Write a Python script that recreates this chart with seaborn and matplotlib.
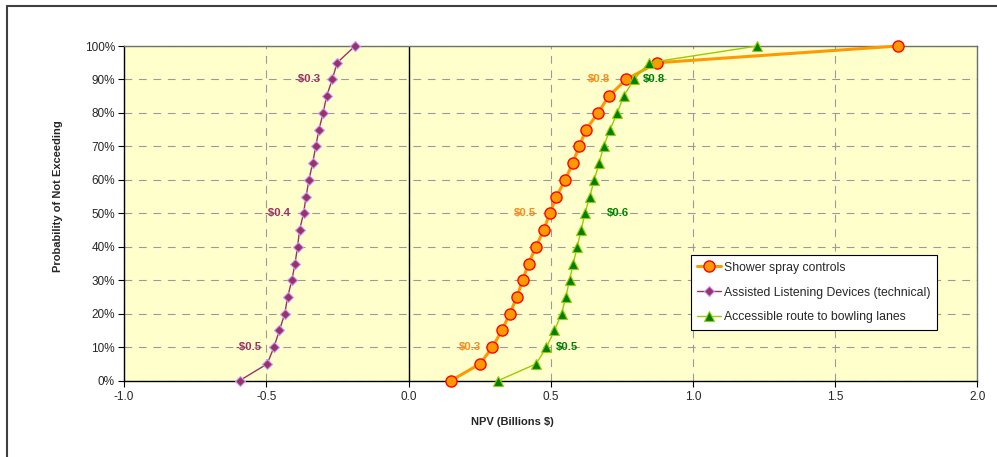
import numpy as np
import seaborn as sns
import matplotlib.pyplot as plt
from matplotlib.lines import Line2D
from matplotlib.ticker import PercentFormatter

# cumulative probability levels (0%..100% in 5% steps)
prob = [0.00, 0.05, 0.10, 0.15, 0.20, 0.25, 0.30, 0.35, 0.40, 0.45, 0.50,
        0.55, 0.60, 0.65, 0.70, 0.75, 0.80, 0.85, 0.90, 0.95, 1.00]

# NPV in billions $ for each probability level
shower = [0.149, 0.251, 0.295, 0.328, 0.356, 0.381, 0.401, 0.422, 0.448, 0.475, 0.497,
          0.520, 0.551, 0.577, 0.600, 0.624, 0.666, 0.704, 0.765, 0.874, 1.721]
listening = [-0.594, -0.497, -0.473, -0.454, -0.435, -0.425, -0.410, -0.399, -0.390, -0.383, -0.369,
             -0.360, -0.350, -0.337, -0.326, -0.315, -0.300, -0.288, -0.268, -0.251, -0.188]
bowling = [0.315, 0.448, 0.485, 0.513, 0.538, 0.553, 0.566, 0.579, 0.593, 0.607, 0.620,
           0.637, 0.653, 0.670, 0.686, 0.708, 0.734, 0.756, 0.793, 0.844, 1.226]

names = ["Shower spray controls",
         "Assisted Listening Devices (technical)",
         "Accessible route to bowling lanes"]

# points that carry a value label (10%, 50%, 90%)
label_idx = [2, 10, 18]

sns.set_style("ticks")
plt.rcParams["font.family"] = ["Liberation Sans", "DejaVu Sans"]
plt.rcParams["axes.unicode_minus"] = False

fig = plt.figure(figsize=(9.97, 4.57), dpi=100)
ax = fig.add_axes([0.1244, 0.167, 0.856, 0.7323])
ax.set_facecolor("#FFFFCC")

styles = [
    dict(color="#FF9900", lw=2.2, marker="o", ms=8, mfc="#FF9900", mec="#FF0000", mew=1.0),
    dict(color="#993366", lw=1.0, marker="D", ms=5.5, mfc="#993366", mec="#CC99FF", mew=0.8),
    dict(color="#99CC00", lw=1.0, marker="^", ms=7, mfc="#008000", mec="#99CC00", mew=0.8),
]
label_colors = ["#FF8C1A", "#993366", "#008000"]
label_offsets = [[-11, -14, -16], [-12, -13, -12], [9, 22, 9]]

for vals, name, st, lc, offs in zip([shower, listening, bowling], names, styles,
                                    label_colors, label_offsets):
    sns.lineplot(x=vals, y=prob, ax=ax, estimator=None, sort=False, label=name,
                 zorder=4, clip_on=False, **st)
    for i, dx in zip(label_idx, offs):
        v = vals[i]
        txt = ("-$" if v < 0 else "$") + f"{abs(v):.1f}"
        ax.annotate(txt, (v, prob[i]), xytext=(dx, 0), textcoords="offset pixels",
                    ha="right" if dx < 0 else "left", va="center",
                    fontsize=8.2, fontweight="bold", color=lc, zorder=5)

ax.set_xlim(-1.0, 2.0)
ax.set_ylim(0, 1)
ax.set_xticks(np.arange(-1.0, 2.01, 0.5))
ax.set_yticks(np.arange(0, 1.01, 0.1))
ax.xaxis.set_major_formatter(lambda v, p: f"{v:.1f}")
ax.yaxis.set_major_formatter(PercentFormatter(1.0, decimals=0))
ax.grid(True, ls=(0, (7, 6)), color="#9A9A9A", lw=0.8, zorder=1)
ax.axvline(0, color="black", lw=1.0, zorder=2)
ax.tick_params(labelsize=8.5, length=4, width=0.8, color="black")
ax.tick_params(axis="y", pad=2.5)
ax.tick_params(axis="x", pad=3.5)

for s in ["top", "right"]:
    ax.spines[s].set_color("#707070")
    ax.spines[s].set_linewidth(1.0)
for s in ["bottom", "left"]:
    ax.spines[s].set_color("black")
    ax.spines[s].set_linewidth(1.0)

ax.set_xlabel("NPV (Billions $)", fontsize=8, fontweight="bold")
ax.set_ylabel("Probability of Not Exceeding", fontsize=8, fontweight="bold")
ax.xaxis.set_label_coords(0.455, -0.11)
ax.yaxis.set_label_coords(-0.0715, 0.552)

leg = ax.legend(loc="upper left", bbox_to_anchor=(0.664, 0.3756), borderaxespad=0,
                frameon=True, fancybox=False, edgecolor="black", framealpha=1,
                fontsize=8.8, handlelength=1.9, handletextpad=0.25,
                borderpad=0.55, labelspacing=1.05)
leg.get_frame().set_linewidth(0.8)

# outer chart border (left and top edges visible)
fig.add_artist(Line2D([0.007, 0.007], [0, 0.987], transform=fig.transFigure,
                      color="#404040", lw=1.5))
fig.add_artist(Line2D([0.007, 1.0], [0.987, 0.987], transform=fig.transFigure,
                      color="#404040", lw=1.5))

fig.savefig("out.png", dpi=100)
